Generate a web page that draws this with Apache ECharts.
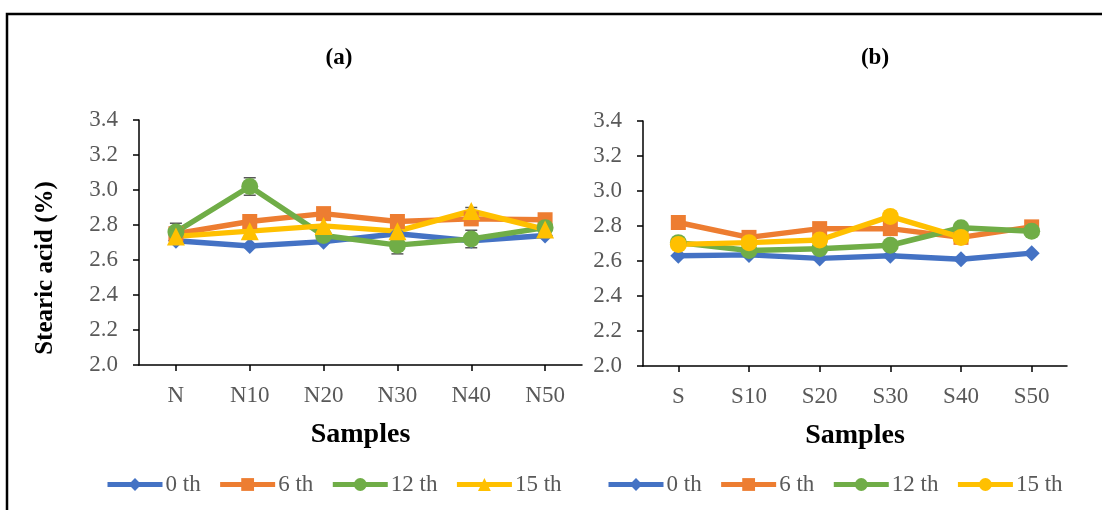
<!DOCTYPE html>
<html>
<head>
<meta charset="utf-8">
<script src="https://cdn.jsdelivr.net/npm/echarts@6/dist/echarts.min.js"></script>
<style>
html,body{margin:0;padding:0;background:#fff;}
#chart{width:1102px;height:510px;}
</style>
</head>
<body>
<div id="chart"></div>
<script>
const categoriesA = ['N', 'N10', 'N20', 'N30', 'N40', 'N50'];
const categoriesB = ['S', 'S10', 'S20', 'S30', 'S40', 'S50'];
const seriesNames = ['0 th', '6 th', '12 th', '15 th'];

const a0  = [2.71, 2.68, 2.705, 2.75, 2.71, 2.74];
const a6  = [2.75, 2.82, 2.865, 2.82, 2.835, 2.83];
const a12 = [2.76, 3.02, 2.74, 2.685, 2.72, 2.785];
const a15 = [2.735, 2.765, 2.795, 2.765, 2.88, 2.775];
const errA12 = [0.05, 0.05, 0.03, 0.05, 0.05, 0.02];
const errA15 = [0, 0, 0, 0, 0.02, 0];

const b0  = [2.63, 2.635, 2.615, 2.63, 2.61, 2.645];
const b6  = [2.82, 2.735, 2.785, 2.785, 2.735, 2.795];
const b12 = [2.705, 2.66, 2.67, 2.69, 2.79, 2.77];
const b15 = [2.695, 2.705, 2.72, 2.855, 2.735, null];

const colors = ['#4472C4', '#ED7D31', '#70AD47', '#FFC000'];
const FONT = '"Liberation Serif", "Times New Roman", serif';
const GRAY = '#595959';

const chart = echarts.init(document.getElementById('chart'), null, {renderer: 'canvas'});

function xAxisFor(cats, gridIndex) {
  return {
    type: 'category', gridIndex: gridIndex, data: cats, boundaryGap: true,
    axisLine: {lineStyle: {color: '#000', width: 1.5}},
    axisTick: {show: true, alignWithLabel: true, inside: false, length: 6, lineStyle: {color: '#000', width: 1.5}},
    axisLabel: {color: GRAY, fontFamily: FONT, fontSize: 23, margin: 19},
    splitLine: {show: false},
    name: 'Samples', nameLocation: 'middle', nameGap: 56,
    nameTextStyle: {color: '#000', fontFamily: FONT, fontSize: 28, fontWeight: 'bold'}
  };
}
function yAxisFor(gridIndex) {
  return {
    type: 'value', gridIndex: gridIndex, min: 2.0, max: 3.4, interval: 0.2,
    axisLine: {show: true, lineStyle: {color: '#000', width: 1.5}},
    axisTick: {show: true, inside: false, length: 6, lineStyle: {color: '#000', width: 1.5}},
    axisLabel: {color: GRAY, fontFamily: FONT, fontSize: 23, margin: 21,
      formatter: v => v.toFixed(1)},
    splitLine: {show: false}
  };
}

function lineSeries(name, data, color, symbol, size, xi, yi) {
  return {
    name: name, type: 'line', data: data, xAxisIndex: xi, yAxisIndex: yi,
    symbol: symbol, symbolSize: size, showSymbol: true, connectNulls: false,
    lineStyle: {color: color, width: 5.5},
    itemStyle: {color: color},
    z: 3
  };
}

function errSeries(vals, errs, xi, yi) {
  const data = [];
  vals.forEach((v, i) => { if (errs[i] > 0) data.push([i, v - errs[i], v + errs[i]]); });
  return {
    type: 'custom', xAxisIndex: xi, yAxisIndex: yi, z: 2, silent: true,
    data: data,
    renderItem: function (params, api) {
      const lo = api.coord([api.value(0), api.value(1)]);
      const hi = api.coord([api.value(0), api.value(2)]);
      const w = 6;
      const st = {stroke: GRAY, lineWidth: 1.5};
      return {type: 'group', children: [
        {type: 'line', shape: {x1: lo[0], y1: lo[1], x2: hi[0], y2: hi[1]}, style: st},
        {type: 'line', shape: {x1: lo[0] - w, y1: lo[1], x2: lo[0] + w, y2: lo[1]}, style: st},
        {type: 'line', shape: {x1: hi[0] - w, y1: hi[1], x2: hi[0] + w, y2: hi[1]}, style: st}
      ]};
    }
  };
}

const legendBase = {
  orient: 'horizontal', itemWidth: 55, itemHeight: 16, itemGap: 17,
  selectedMode: false,
  lineStyle: {width: 5},
  textStyle: {color: GRAY, fontFamily: FONT, fontSize: 23, padding: [0, 0, 0, -2]},
  formatter: n => n.replace(/^b/, '')
};

const option = {
  backgroundColor: '#fff',
  animation: false,
  title: [
    {text: '(a)', left: 334, top: 42, textAlign: 'center',
     textStyle: {fontFamily: FONT, fontSize: 23, fontWeight: 'bold', color: '#000'}},
    {text: '(b)', left: 870, top: 42, textAlign: 'center',
     textStyle: {fontFamily: FONT, fontSize: 23, fontWeight: 'bold', color: '#000'}}
  ],
  grid: [
    {left: 139, right: 520, top: 120, bottom: 145, containLabel: false},
    {left: 643, right: 35, top: 121, bottom: 144, containLabel: false}
  ],
  xAxis: [xAxisFor(categoriesA, 0), xAxisFor(categoriesB, 1)],
  yAxis: [yAxisFor(0), yAxisFor(1)],
  legend: [
    Object.assign({}, legendBase, {left: 100, top: 468, data: seriesNames.slice()}),
    Object.assign({}, legendBase, {left: 601, top: 468, data: seriesNames.map(n => 'b' + n)})
  ],
  graphic: [
    {type: 'rect', shape: {x: 7, y: 14, width: 1200, height: 600},
     style: {fill: 'none', stroke: '#000', lineWidth: 2.5}, z: 100, silent: true},
    {type: 'text', x: 46, y: 268, rotation: Math.PI / 2,
     style: {text: 'Stearic acid (%)', font: 'bold 25px ' + FONT, fill: '#000',
       textAlign: 'center', textVerticalAlign: 'middle'}}
  ],
  series: [
    errSeries(a12, errA12, 0, 0),
    errSeries(a15, errA15, 0, 0),
    lineSeries(seriesNames[0], a0, colors[0], 'diamond', 16, 0, 0),
    lineSeries(seriesNames[1], a6, colors[1], 'rect', 15, 0, 0),
    lineSeries(seriesNames[2], a12, colors[2], 'circle', 17, 0, 0),
    lineSeries(seriesNames[3], a15, colors[3], 'triangle', 18, 0, 0),
    lineSeries('b' + seriesNames[0], b0, colors[0], 'diamond', 16, 1, 1),
    lineSeries('b' + seriesNames[1], b6, colors[1], 'rect', 15, 1, 1),
    lineSeries('b' + seriesNames[2], b12, colors[2], 'circle', 17, 1, 1),
    lineSeries('b' + seriesNames[3], b15, colors[3], 'circle', 17, 1, 1)
  ]
};
chart.setOption(option);
</script>
</body>
</html>
